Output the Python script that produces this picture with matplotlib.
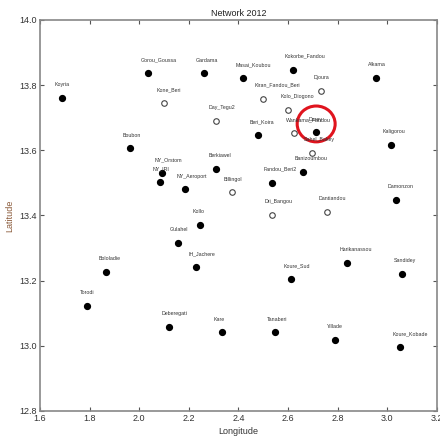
import matplotlib
matplotlib.use("Agg")
import matplotlib.pyplot as plt
from matplotlib.patches import Ellipse

plt.rcParams['font.family'] = ['Liberation Sans Narrow', 'Liberation Sans', 'DejaVu Sans']

# stations with filled markers
full_names = ["Koyria", "Gorou_Goussa", "Gardama", "Boubon", "Masai_Koubou", "Kokorbe_Fandou",
              "Alkama", "Beri_Koira", "Darey", "Kaligorou", "Berkiawel", "NY_Orstom", "NY_IRI",
              "NY_Aeroport", "Kollo", "Gulahel", "IH_Jachere", "Bololadie", "Fandou_Beri2",
              "Banizoumbou", "Damonzon", "Harikanassou", "Sandidey", "Koure_Sud", "Torodi",
              "Deberegati", "Kare", "Tanaberi", "Yillade", "Koure_Kobade"]
full_lon = [1.690, 2.037, 2.260, 1.963, 2.420, 2.619, 2.954, 2.478, 2.713, 3.013, 2.310, 2.093,
            2.085, 2.183, 2.246, 2.156, 2.230, 1.867, 2.534, 2.659, 3.033, 2.839, 3.058, 2.612,
            1.791, 2.121, 2.333, 2.548, 2.788, 3.052]
full_lat = [13.762, 13.838, 13.836, 13.606, 13.822, 13.848, 13.821, 13.648, 13.655, 13.617,
            13.544, 13.531, 13.503, 13.480, 13.371, 13.315, 13.241, 13.226, 13.501, 13.534,
            13.449, 13.255, 13.220, 13.205, 13.122, 13.058, 13.041, 13.041, 13.018, 12.997]

# stations with open markers
open_names = ["Kone_Beri", "Day_Tegu2", "Djoura", "Kiran_Fandou_Beri", "Kolo_Diogono",
              "Wankama_Fandou", "Sahel_Bakey", "Billingol", "Dri_Bangou", "Dantiandou"]
open_lon = [2.101, 2.310, 2.733, 2.498, 2.601, 2.624, 2.697, 2.373, 2.537, 2.756]
open_lat = [13.746, 13.691, 13.783, 13.759, 13.723, 13.652, 13.592, 13.471, 13.403, 13.412]

fig = plt.figure(figsize=(4.4, 4.41), dpi=100)
ax = fig.add_axes([40/440, 30/441, 397/440, 391/441])

ax.plot(full_lon, full_lat, 'o', color='black', markersize=4.2, linestyle='none')
ax.plot(open_lon, open_lat, 'o', markerfacecolor='white', markeredgecolor='#444444',
        markeredgewidth=0.8, markersize=4.0, linestyle='none')

for n, x, y in zip(full_names, full_lon, full_lat):
    ax.text(x - 0.032, y + 0.041, n, fontsize=3.8, color='#333333', ha='left', va='center',
            family=['Liberation Sans', 'DejaVu Sans'])
for n, x, y in zip(open_names, open_lon, open_lat):
    ax.text(x - 0.032, y + 0.041, n, fontsize=3.8, color='#333333', ha='left', va='center',
            family=['Liberation Sans', 'DejaVu Sans'])

# red circle around the highlighted station
ax.add_patch(Ellipse((2.713, 13.681), 0.153, 0.110, fill=False, edgecolor='#e0141e', linewidth=2.2))

ax.set_xlim(1.6, 3.2)
ax.set_ylim(12.8, 14.0)
ax.set_xticks([1.6, 1.8, 2.0, 2.2, 2.4, 2.6, 2.8, 3.0, 3.2])
ax.set_yticks([12.8, 13.0, 13.2, 13.4, 13.6, 13.8, 14.0])
ax.set_xticklabels(['1.6', '1.8', '2.0', '2.2', '2.4', '2.6', '2.8', '3.0', '3.2'])
ax.set_yticklabels(['12.8', '13.0', '13.2', '13.4', '13.6', '13.8', '14.0'])
ax.tick_params(direction='in', length=3, width=0.8, colors='#555555', labelsize=6.5,
               labelcolor='#333333', top=True, right=True, pad=2)
for s in ax.spines.values():
    s.set_color('#888888')
    s.set_linewidth(1.2)

ax.set_title('Network 2012', fontsize=6.5, color='#222222', pad=3)
ax.set_xlabel('Longitude', fontsize=6.5, color='#333333', labelpad=3)
ax.set_ylabel('Latitude', fontsize=6.5, color='#8a5a3a', labelpad=4)

fig.savefig('out.png', dpi=100, facecolor='white')
